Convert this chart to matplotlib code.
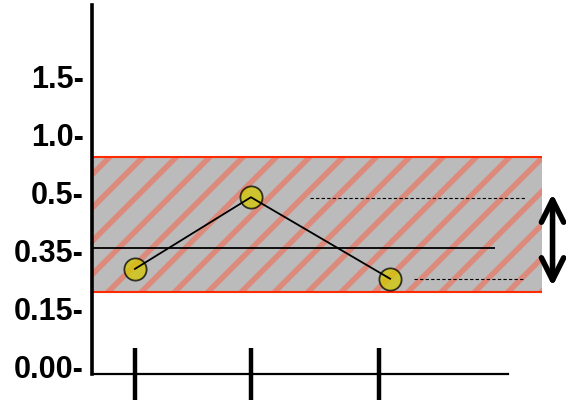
import matplotlib.pyplot as plt
from matplotlib.patches import Rectangle

plt.rcParams['font.family'] = ['Liberation Sans', 'DejaVu Sans']
plt.rcParams['hatch.linewidth'] = 4.0

# y tick positions are evenly spaced, labels are not linear
ytick_pos = [0, 1, 2, 3, 4, 5]
ytick_labels = ['0.00-', '0.15-', '0.35-', '0.5-', '1.0-', '1.5-']

xtick_pos = [1, 2, 3.1]
point_x = [1, 2, 3.2]
point_y = [1.68, 2.92, 1.51]

band_low, band_high = 1.28, 3.62
band_x = (0.63, 4.51)
mean_y = 2.04
mean_x = (0.63, 4.1)
dash_lines = [((2.51, 4.36), 2.91), ((3.41, 4.36), 1.51)]
arrow_x = 4.6
arrow_y = (1.38, 2.98)

fig = plt.figure(figsize=(5.66, 4.04), dpi=100)
ax = fig.add_axes([92 / 566, 0, 1 - 92 / 566, 1])
ax.set_xlim(0.63, 4.716)
ax.set_ylim(-0.657, 6.332)

# band: grey fill + red hatch
ax.add_patch(Rectangle((band_x[0], band_low), band_x[1] - band_x[0], band_high - band_low,
                       facecolor='#bbbbbb', edgecolor='none', zorder=1))
ax.add_patch(Rectangle((band_x[0], band_low), band_x[1] - band_x[0], band_high - band_low,
                       facecolor='none', edgecolor='#dc8a7c', hatch='/', lw=0, zorder=1.5))
ax.hlines([band_low, band_high], band_x[0], band_x[1], color='#ff2a00', lw=1.5, zorder=2)

ax.hlines(mean_y, mean_x[0], mean_x[1], color='black', lw=1.3, zorder=3)
for (x0, x1), y in dash_lines:
    ax.hlines(y, x0, x1, color='black', lw=0.8, linestyles=(0, (3, 2)), zorder=3)

ax.plot(point_x, point_y, 'o', ms=16, mfc='#d4c800', mec='black', mew=1.3,
        alpha=0.75, zorder=4)
ax.plot(point_x, point_y, '-', color='black', lw=1.3, zorder=5)

ax.annotate('', xy=(arrow_x, arrow_y[1]), xytext=(arrow_x, arrow_y[0]),
            arrowprops=dict(arrowstyle='<->', lw=4, color='black',
                            mutation_scale=40, shrinkA=0, shrinkB=0),
            annotation_clip=False)

for s in ['top', 'right']:
    ax.spines[s].set_visible(False)
ax.spines['left'].set_linewidth(2.6)
ax.spines['left'].set_bounds(-0.14, 6.25)
ax.spines['bottom'].set_position(('data', -0.14))
ax.spines['bottom'].set_bounds(0.63, 4.22)
ax.spines['bottom'].set_linewidth(1.6)

ax.set_yticks(ytick_pos)
ax.set_yticklabels(ytick_labels, fontsize=22, fontweight='bold')
ax.tick_params(axis='y', length=0, pad=6)
ax.set_xticks(xtick_pos)
ax.set_xticklabels([])
ax.tick_params(axis='x', direction='inout', length=37, width=3.2)

fig.savefig('out.png', dpi=100)
